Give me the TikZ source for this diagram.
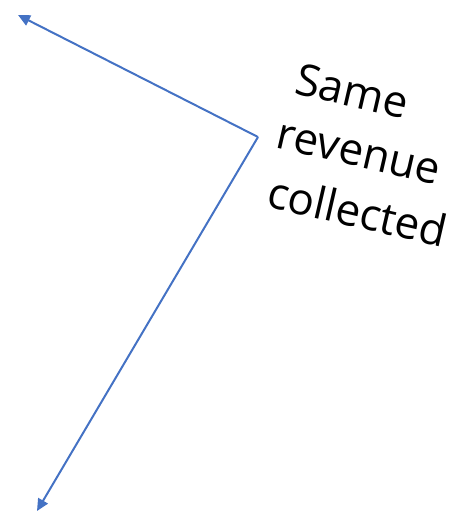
\documentclass[tikz,border=0pt]{standalone}
\usepackage{fontspec}
\setmainfont{Open Sans}
\usetikzlibrary{arrows.meta}
\definecolor{lineblue}{RGB}{68,114,196}
\begin{document}
\begin{tikzpicture}[x=1pt,y=-1pt,
  conn/.style={draw=lineblue,line width=2pt,-{Triangle[length=12pt,width=11pt]}},
  lbl/.style={anchor=base,font=\fontsize{44}{60}\selectfont,rotate=-13,inner sep=0pt}]
\useasboundingbox (0,0) rectangle (452,512);
\coordinate (apex) at (258,137);
\coordinate (top) at (18,15);
\coordinate (bot) at (37,511);
\draw[conn] (apex) -- (top);
\draw[conn] (apex) -- (bot);
\node[lbl] (t1) at (349,106) {Same};
\node[lbl] (t2) at (356,166) {revenue};
\node[lbl] (t3) at (354,227) {collected};
\end{tikzpicture}
\end{document}
